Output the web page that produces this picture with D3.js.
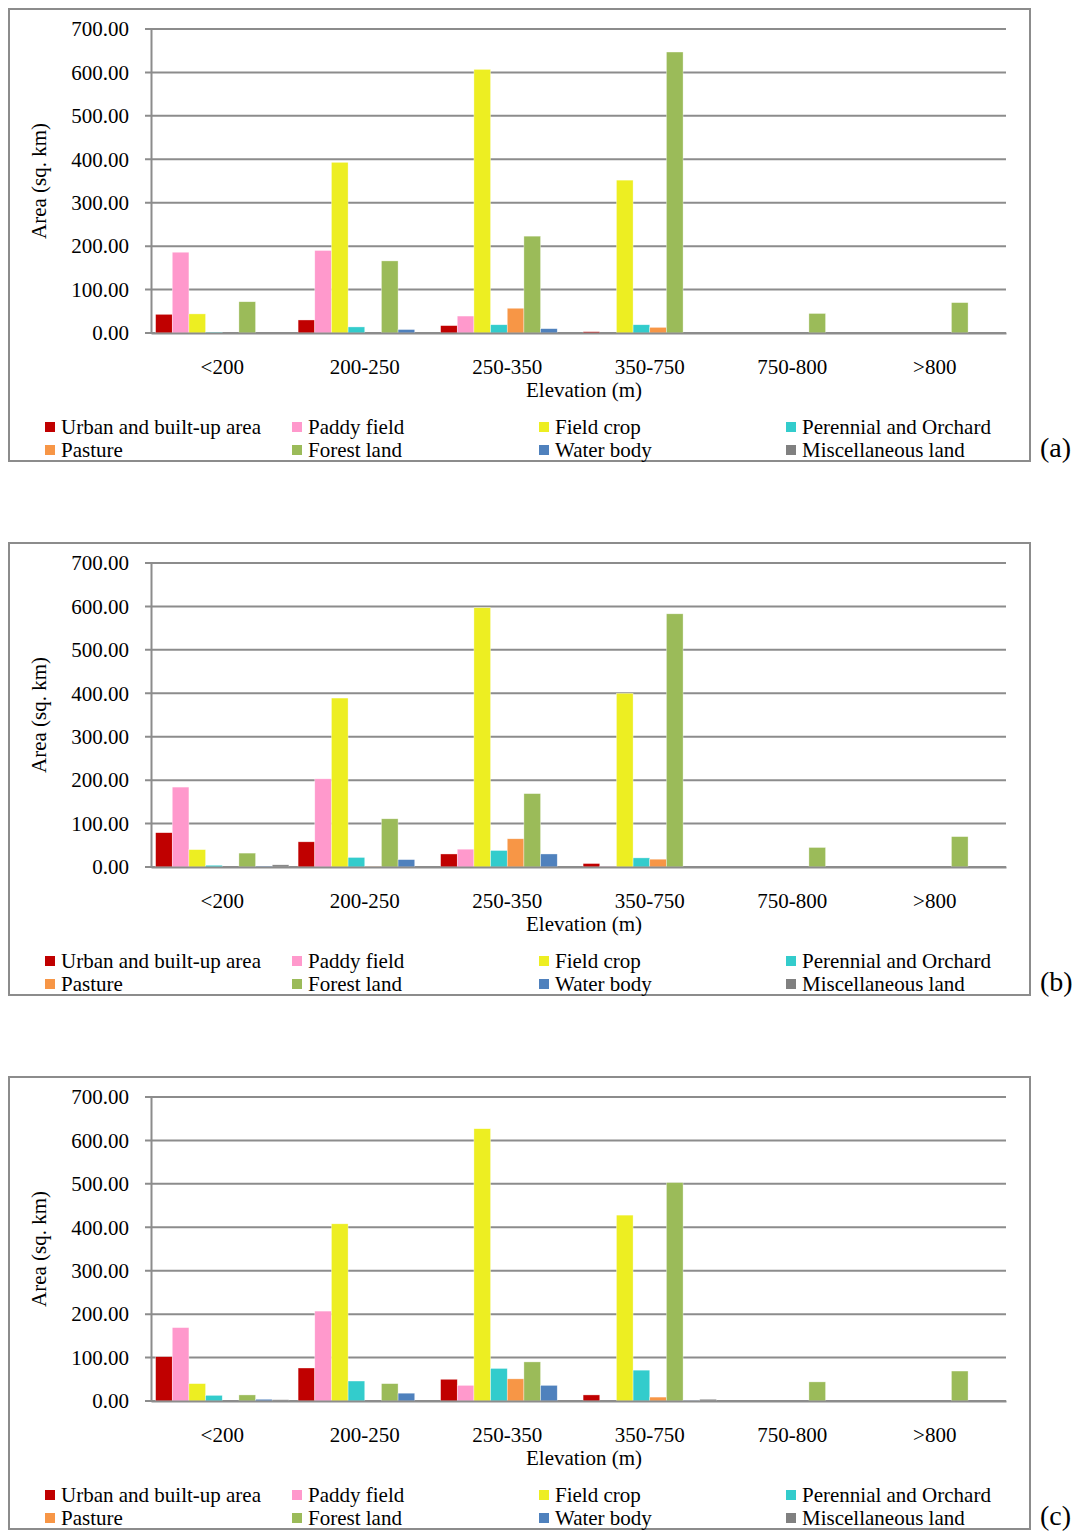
<!DOCTYPE html>
<html>
<head>
<meta charset="utf-8">
<script src="https://cdn.jsdelivr.net/npm/d3@7"></script>
<style>
  html, body { margin: 0; padding: 0; background: #fff; }
  svg { display: block; }
  text { font-family: "Liberation Serif", "Times New Roman", serif; fill: #000; }
</style>
</head>
<body>
<svg id="chart" width="1084" height="1532"></svg>
<script>
// Elevation classes on the x axis
const categories = ["<200", "200-250", "250-350", "350-750", "750-800", ">800"];

// Land-use classes (one bar each per elevation class)
const seriesNames = [
  "Urban and built-up area", "Paddy field", "Field crop", "Perennial and Orchard",
  "Pasture", "Forest land", "Water body", "Miscellaneous land"
];
const seriesColors = ["#C00000", "#FF99CC", "#EDEE22", "#33CCCC",
                      "#F79646", "#9BBB59", "#4F81BD", "#808080"];

const yTicks = [0, 100, 200, 300, 400, 500, 600, 700];

// Area (sq. km) per land-use class, one row per class, columns follow categories
const panelA = [
  [43, 30, 17, 3, 0, 0],        // Urban and built-up area
  [186, 190, 39, 0, 0, 0],      // Paddy field
  [44, 393, 607, 352, 0, 0],    // Field crop
  [2, 14, 19, 19, 0, 0],        // Perennial and Orchard
  [0, 0, 57, 13, 0, 0],         // Pasture
  [72, 166, 223, 647, 45, 70],  // Forest land
  [0, 8, 10, 0, 0, 0],          // Water body
  [0, 0, 0, 0, 0, 0]            // Miscellaneous land
];
const panelB = [
  [79, 58, 30, 8, 0, 0],
  [184, 203, 41, 1, 0, 0],
  [40, 389, 597, 400, 0, 0],
  [4, 22, 38, 21, 0, 0],
  [0, 1, 65, 18, 0, 0],
  [32, 111, 169, 583, 45, 70],
  [2, 17, 30, 0, 0, 0],
  [5, 0, 0, 0, 0, 0]
];
const panelC = [
  [102, 76, 50, 14, 0, 0],
  [169, 207, 36, 0, 0, 0],
  [40, 408, 627, 428, 0, 0],
  [13, 46, 75, 71, 0, 0],
  [0, 0, 51, 9, 0, 0],
  [14, 40, 90, 503, 44, 69],
  [4, 18, 36, 1, 0, 0],
  [3, 0, 0, 4, 0, 0]
];

const panels = [
  { tag: "(a)", values: panelA },
  { tag: "(b)", values: panelB },
  { tag: "(c)", values: panelC }
];

const svg = d3.select("#chart");
const panelStep = 534;
const gridColor = "#8c8c8c";
const serif = "'Liberation Serif', 'Times New Roman', serif";

const x = d3.scaleBand().domain(categories).range([151, 1006]).padding(0);
const xInner = d3.scaleBand().domain(seriesNames)
  .range([4.6, x.bandwidth() - 4.6]).padding(0);
const y = d3.scaleLinear().domain([0, 700]).range([333, 29]);

panels.forEach((p, i) => {
  const g = svg.append("g").attr("transform", `translate(0,${i * panelStep})`);

  // outer frame
  g.append("rect")
    .attr("x", 9).attr("y", 9).attr("width", 1021).attr("height", 452)
    .attr("fill", "none").attr("stroke", gridColor).attr("stroke-width", 2);

  // horizontal gridlines
  g.append("g").selectAll("line").data(yTicks).join("line")
    .attr("x1", 145).attr("x2", 1006)
    .attr("y1", d => y(d)).attr("y2", d => y(d))
    .attr("stroke", gridColor).attr("stroke-width", 2);

  // y axis
  const yAxis = d3.axisLeft(y).tickValues(yTicks)
    .tickFormat(d3.format(".2f")).tickSize(0).tickPadding(22);
  const ya = g.append("g").attr("transform", "translate(151,0)").call(yAxis)
    .attr("font-family", serif).attr("font-size", 21);
  ya.select(".domain").attr("stroke", gridColor).attr("stroke-width", 2);
  ya.selectAll("text").style("font-family", serif).attr("fill", "#000");

  // bars
  const groups = g.append("g").selectAll("g").data(categories).join("g")
    .attr("transform", c => `translate(${x(c)},0)`);
  groups.selectAll("rect")
    .data((c, ci) => seriesNames.map((s, si) => ({ s, si, v: p.values[si][ci] })))
    .join("rect")
    .attr("x", d => xInner(d.s))
    .attr("width", xInner.bandwidth())
    .attr("y", d => y(d.v))
    .attr("height", d => y(0) - y(d.v))
    .attr("fill", d => seriesColors[d.si])
    .attr("stroke", "rgba(255,255,255,0.6)").attr("stroke-width", 0.6);

  // x axis baseline and category labels
  const xAxis = d3.axisBottom(x).tickSize(0).tickPadding(26);
  const xa = g.append("g").attr("transform", `translate(0,${y(0)})`).call(xAxis)
    .attr("font-family", serif).attr("font-size", 21);
  xa.select(".domain").attr("stroke", gridColor).attr("stroke-width", 2);
  xa.selectAll("text").style("font-family", serif).attr("fill", "#000");

  // axis titles
  g.append("text").attr("x", 584).attr("y", 397)
    .attr("text-anchor", "middle").attr("font-size", 21).text("Elevation (m)");
  g.append("text")
    .attr("transform", "translate(46,181) rotate(-90)")
    .attr("text-anchor", "middle").attr("font-size", 21).text("Area (sq. km)");

  // legend: 4 columns, 2 rows
  const legend = g.append("g").selectAll("g").data(seriesNames).join("g")
    .attr("transform", (d, k) => `translate(${45 + (k % 4) * 247},${422 + Math.floor(k / 4) * 23})`);
  legend.append("rect").attr("width", 10).attr("height", 10)
    .attr("fill", (d, k) => seriesColors[k]);
  legend.append("text").attr("x", 16).attr("y", 12)
    .attr("font-size", 21).text(d => d);

  // panel tag
  g.append("text").attr("x", 1040).attr("y", 457)
    .attr("font-size", 28).text(p.tag);
});
</script>
</body>
</html>
